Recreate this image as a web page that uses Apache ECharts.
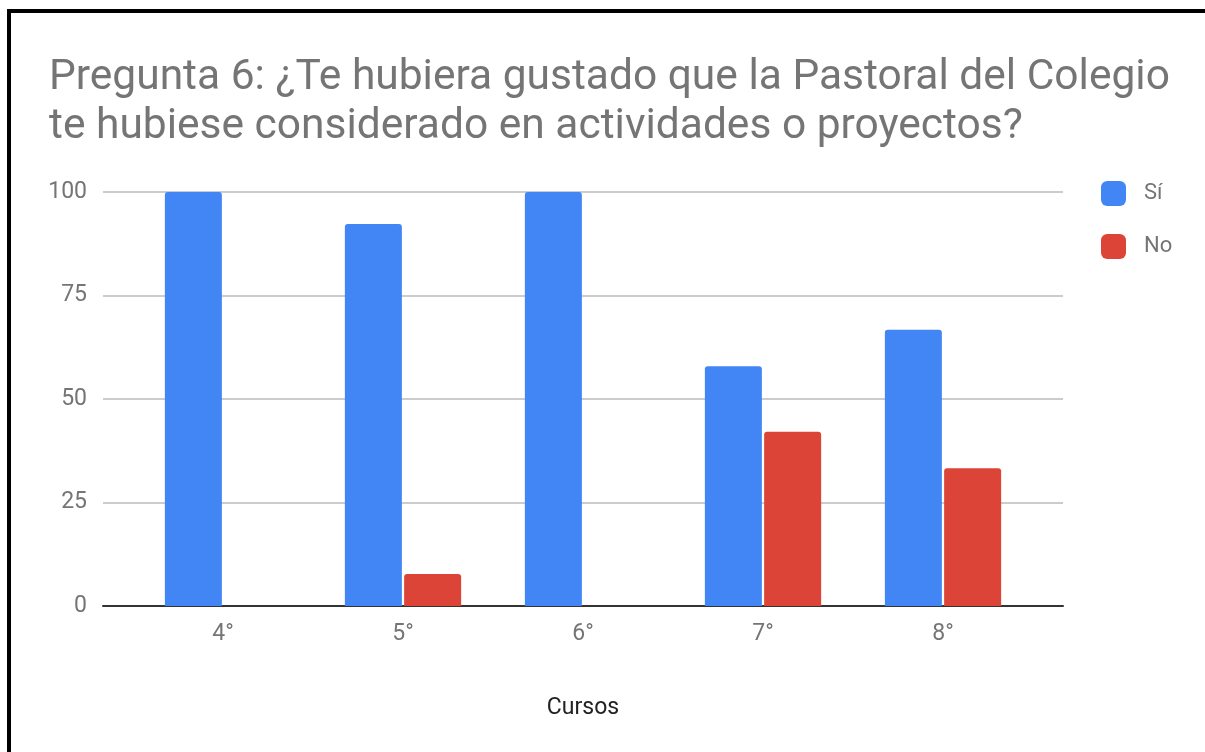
<!DOCTYPE html>
<html>
<head>
<meta charset="utf-8">
<script src="https://cdn.jsdelivr.net/npm/echarts@6/dist/echarts.min.js"></script>
<style>
  html, body { margin: 0; padding: 0; background: #fff; }
  #chart { width: 1205px; height: 752px; }
</style>
</head>
<body>
<div id="chart"></div>
<script>
const cursos = ['4°', '5°', '6°', '7°', '8°'];
const si = [100, 92.3, 100, 57.9, 66.7];
const no = [0, 7.7, 0, 42.1, 33.3];
const yTicks = [0, 25, 50, 75, 100];

const myChart = echarts.init(document.getElementById('chart'));
const grey = '#757575';
const font = 'Roboto';

const option = {
  backgroundColor: '#fff',
  color: ['#4285F4', '#DB4437'],
  textStyle: { fontFamily: font },
  title: {
    text: 'Pregunta 6: ¿Te hubiera gustado que la Pastoral del Colegio\nte hubiese considerado en actividades o proyectos?',
    left: 49,
    top: 54,
    padding: 0,
    textStyle: { fontFamily: font, fontSize: 42.5, fontWeight: 'normal', color: grey, lineHeight: 49 }
  },
  legend: {
    orient: 'vertical',
    left: 1101,
    top: 181,
    padding: 0,
    itemWidth: 25,
    itemHeight: 25,
    itemGap: 28,
    icon: 'roundRect',
    textStyle: { fontFamily: font, fontSize: 22, color: grey, padding: [0, 0, 0, 13] },
    data: ['Sí', 'No']
  },
  grid: [
    { left: 133, right: 172, top: 192, bottom: 146 },
    { left: 103, right: 142, top: 192, bottom: 146 }
  ],
  xAxis: [
    {
      type: 'category',
      gridIndex: 0,
      data: cursos,
      axisLine: { show: false },
      axisTick: { show: false },
      axisLabel: { margin: 17, fontFamily: font, fontSize: 23, color: grey },
      name: 'Cursos',
      nameLocation: 'middle',
      nameGap: 91,
      nameTextStyle: { fontFamily: font, fontSize: 23, color: '#222' }
    },
    {
      type: 'value',
      gridIndex: 1,
      min: 0,
      max: 1,
      axisLine: { show: true, onZero: false, lineStyle: { color: '#333', width: 2 } },
      axisTick: { show: false },
      axisLabel: { show: false },
      splitLine: { show: false }
    }
  ],
  yAxis: [
    {
      type: 'value',
      gridIndex: 0,
      min: 0,
      max: 100,
      interval: 25,
      show: false,
      splitLine: { show: false }
    },
    {
      type: 'value',
      gridIndex: 1,
      min: yTicks[0],
      max: yTicks[yTicks.length - 1],
      interval: 25,
      axisLine: { show: false },
      axisTick: { show: false },
      axisLabel: { margin: 16, fontFamily: font, fontSize: 23, color: grey },
      splitLine: { lineStyle: { color: '#ccc', width: 2 } }
    }
  ],
  series: [
    {
      name: 'Sí',
      type: 'bar',
      xAxisIndex: 0,
      yAxisIndex: 0,
      barWidth: 57,
      barGap: '4%',
      itemStyle: { borderRadius: [3, 3, 0, 0] },
      data: si
    },
    {
      name: 'No',
      type: 'bar',
      xAxisIndex: 0,
      yAxisIndex: 0,
      barWidth: 57,
      barGap: '4%',
      itemStyle: { borderRadius: [3, 3, 0, 0] },
      data: no
    }
  ],
  graphic: [
    { type: 'rect', shape: { x: 7, y: 9, width: 1198, height: 4 }, style: { fill: '#000' }, z: 100 },
    { type: 'rect', shape: { x: 7, y: 9, width: 4, height: 743 }, style: { fill: '#000' }, z: 100 }
  ]
};

myChart.setOption(option);
</script>
</body>
</html>
